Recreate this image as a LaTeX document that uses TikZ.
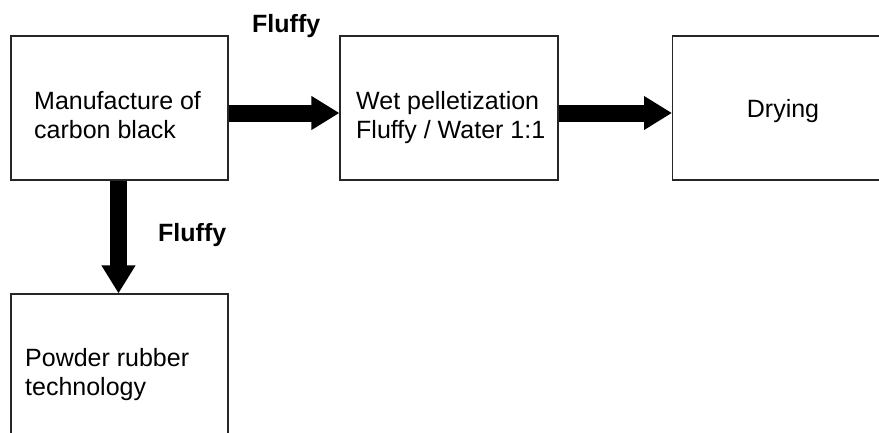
\documentclass[tikz,border=0pt]{standalone}
\usepackage{fontspec}
\setmainfont{Liberation Sans}
\usetikzlibrary{arrows.meta}
\begin{document}
\begin{tikzpicture}[x=1pt,y=-1pt,
  box/.style={draw=black!85,line width=1.1pt,rectangle,minimum width=217pt,minimum height=144pt,inner sep=0pt},
  txt/.style={inner sep=0pt,align=left,font=\fontsize{25}{28.5}\selectfont},
  lbl/.style={inner sep=0pt,font=\fontsize{25}{28.5}\selectfont\bfseries},
  flow/.style={line width=17pt,-{Triangle[length=28pt,width=32pt]}}]
\useasboundingbox (0,0) rectangle (879,432);
\begin{scope}
\clip (0,0) rectangle (879,432);
\node[box] (b1) at (119.5,108) {};
\node[box,minimum width=218pt] (b2) at (449,108) {};
\node[box,minimum width=300pt,anchor=west] (b3) at (672,108) {};
\node[box] (b4) at (119.5,366) {};
\end{scope}
\node[txt,anchor=base west] (t1) at (34,138) {Manufacture of\\carbon black};
\node[txt,anchor=base west] (t2) at (356,138) {Wet pelletization\\Fluffy / Water 1:1};
\node[txt,anchor=base] (t3) at (783,117) {Drying};
\node[txt,anchor=base west] (t4) at (25,395) {Powder rubber\\technology};
\node[lbl,anchor=base west] (f1) at (252,32) {Fluffy};
\node[lbl,anchor=base west] (f2) at (158,241) {Fluffy};
\draw[flow] ([yshift=-5pt]b1.east) -- ([yshift=-5pt]b2.west);
\draw[flow] ([yshift=-5pt]b2.east) -- ([yshift=-5pt]b3.west);
\draw[flow] ([xshift=-1pt]b1.south) -- ([xshift=-1pt]b4.north);
\end{tikzpicture}
\end{document}
